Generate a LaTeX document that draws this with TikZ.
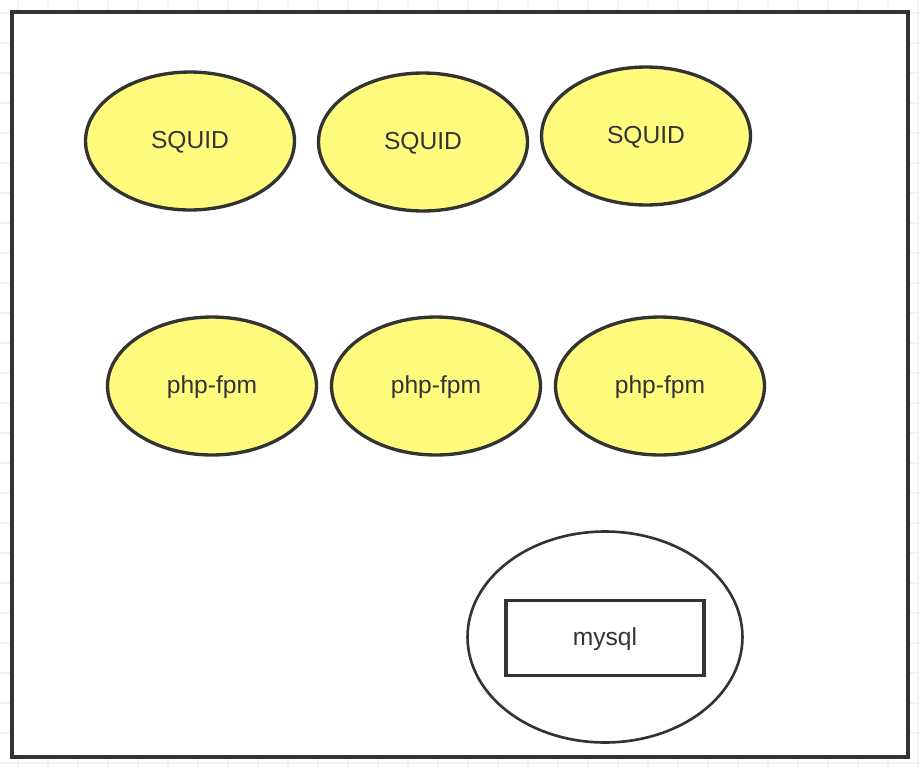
\documentclass[tikz,border=0pt]{standalone}
\usepackage{fontspec}
\setmainfont{Liberation Sans}
\usepackage{xcolor}
\usetikzlibrary{
	shapes.geometric,
	positioning
}
\definecolor{NoteYellow}{RGB}{255,252,125}
\definecolor{InkGray}{RGB}{51,51,51}
\definecolor{GridGray}{RGB}{243,243,243}

\tikzset{
	server/.style={ellipse, draw=InkGray, line width=1.9pt, fill=NoteYellow,
		minimum width=4.18cm, minimum height=2.76cm, inner sep=0pt,
		text height=1.0em, text depth=0.2em,
		text=InkGray, font=\fontsize{14}{16}\selectfont},
	dbshell/.style={ellipse, draw=InkGray, line width=1.5pt, fill=white,
		minimum width=5.5cm, minimum height=4.22cm, inner sep=0pt},
	dbbox/.style={rectangle, draw=InkGray, line width=1.9pt,
		minimum width=3.96cm, minimum height=1.5cm, inner sep=0pt,
		text height=1.0em, text depth=0.2em,
		text=InkGray, font=\fontsize{14}{16}\selectfont}
}

\begin{document}
\begin{tikzpicture}[x=0.02cm, y=-0.02cm]
		\useasboundingbox (0,0) rectangle (920,768);
		
		% canvas grid
		\foreach \gx in {18,48,...,918} \draw[GridGray, line width=0.6pt] (\gx,0) -- (\gx,768);
		\foreach \gy in {13,43,...,763} \draw[GridGray, line width=0.6pt] (0,\gy) -- (920,\gy);
		
		% outer frame
		\draw[InkGray, line width=2pt, fill=white] (12,12) rectangle (908,757);
		
		\node[server] (squidA) at (190,141) {SQUID};
		\node[server] (squidB) at (423,142) {SQUID};
		\node[server] (squidC) at (646,136) {SQUID};
		
		\node[server] (phpA) at (212,386) {php-fpm};
		\node[server] (phpB) at (436,386) {php-fpm};
		\node[server] (phpC) at (660,386) {php-fpm};
		
		\node[dbshell] (dbhost) at (605,637) {};
		\node[dbbox] (mysql) at (605,638) {mysql};
	\end{tikzpicture}
\end{document}
